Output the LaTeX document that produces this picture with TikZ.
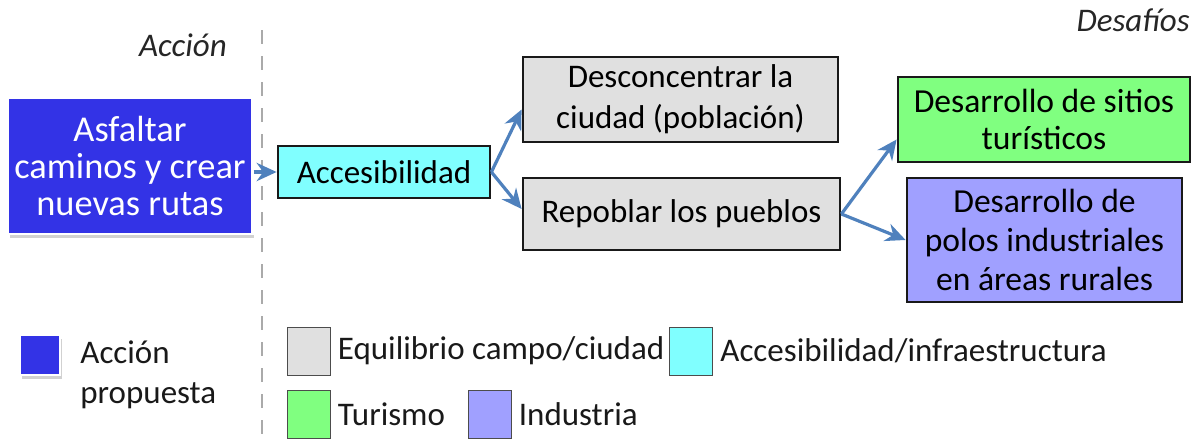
\documentclass[tikz,border=0pt]{standalone}
\usepackage{fontspec}
\setmainfont{Carlito}
\usetikzlibrary{arrows.meta,positioning,shadows}
\definecolor{actblue}{RGB}{51,51,230}
\definecolor{accyan}{RGB}{128,255,255}
\definecolor{eqgray}{RGB}{224,224,224}
\definecolor{turgreen}{RGB}{128,255,128}
\definecolor{indpurple}{RGB}{160,160,255}
\definecolor{linkblue}{RGB}{79,129,189}
\definecolor{dashgray}{RGB}{170,170,170}
\newcommand{\fs}{\fontsize{16.5}{20}\selectfont}
\newcommand{\fsz}[2]{\fontsize{#1}{#2}\selectfont}
\tikzset{
  box/.style     = {draw=black!90, line width=1.4pt, align=center, inner sep=0pt,
                    font=\fs, text=black},
  actbox/.style  = {draw=white, line width=1.2pt, fill=actblue, text=white, align=center,
                    font=\fs, drop shadow={shadow xshift=1pt, shadow yshift=-2pt,
                    opacity=0.3, fill=black!60}},
  link/.style    = {-{Stealth[length=3.5mm, width=3.2mm]}, line width=1.6pt, draw=linkblue},
  divider/.style = {dashgray, line width=1.3pt, dash pattern=on 7pt off 6pt},
  head/.style    = {font=\fs\itshape, text=black!85, inner sep=0pt},
  key/.style     = {draw=black!70, line width=0.5pt, minimum width=21.5pt,
                    minimum height=24pt, inner sep=0pt},
  keytext/.style = {font=\fs, text=black!90, inner sep=0pt, align=left},
}
\begin{document}
\begin{tikzpicture}[x=0.5pt,y=-0.5pt]
  \useasboundingbox (0,0) rectangle (1198,439);
  \draw[divider] (262,30) -- (262,439);
  \node[head] (accion) at (183,45) {Acción};
  \node[head, anchor=east] (desafios) at (1190,20) {Desafíos};

  \node[actbox, font={\fsz{18.2}{18.5}}, minimum width=118pt, minimum height=68pt] (asfaltar)
      at (130,166) {Asfaltar\\caminos y crear\\nuevas rutas};
  \node[box, fill=accyan, minimum width=106pt, minimum height=26pt] (acces) at (384,172)
      {Accesibilidad};
  \node[box, fill=eqgray, font={\fsz{16.5}{20.5}}, minimum width=157.5pt, minimum height=42.5pt]
      (descon) at (680.5,99.5) {Desconcentrar la\\ciudad (población)};
  \node[box, fill=eqgray, minimum width=158.5pt, minimum height=36pt]
      (repob) at (681.5,214) {Repoblar los pueblos};
  \node[box, fill=turgreen, font={\fsz{16.8}{18.5}}, minimum width=146pt, minimum height=42.5pt]
      (sitios) at (1044,119.5) {Desarrollo de sitios\\turísticos};
  \node[box, fill=indpurple, font={\fsz{16.8}{19.5}}, minimum width=137.5pt, minimum height=62pt]
      (polos) at (1044.5,240) {Desarrollo de\\polos industriales\\en áreas rurales};

  \draw[link] (asfaltar.east |- acces.west) -- (acces.west);
  \draw[link] (acces.east) -- ([yshift=-5pt]descon.west);
  \draw[link] (acces.east) -- ([yshift=2.5pt]repob.west);
  \draw[link] (repob.east) -- ([yshift=-10pt]sitios.west);
  \draw[link] (repob.east) -- (polos.west);

  \node[actbox, minimum size=20pt, inner sep=0pt] (kact) at (40,355) {};
  \node[keytext, anchor=west] (tact) at (80,375) {Acción\\propuesta};
  \node[key, fill=eqgray] (keq) at (308.5,351) {};
  \node[keytext, right=3.5pt of keq] (teq) {Equilibrio campo/ciudad};
  \node[key, fill=accyan] (kacc) at (691,351) {};
  \node[keytext, right=3.5pt of kacc] (tacc) {Accesibilidad/infraestructura};
  \node[key, fill=turgreen] (ktur) at (308.5,414) {};
  \node[keytext, right=3.5pt of ktur] (ttur) {Turismo};
  \node[key, fill=indpurple] (kind) at (489.5,414) {};
  \node[keytext, right=3.5pt of kind] (tind) {Industria};
\end{tikzpicture}
\end{document}
